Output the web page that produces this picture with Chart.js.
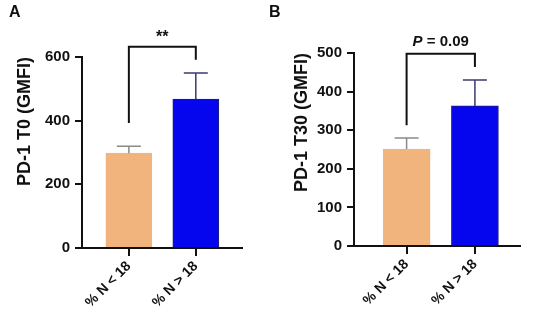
<!DOCTYPE html>
<html>
<head>
<meta charset="utf-8">
<script src="https://cdn.jsdelivr.net/npm/chart.js@4/dist/chart.umd.min.js"></script>
<style>
  body { margin: 0; background: #fff; }
  #wrap { position: relative; width: 536px; height: 330px; overflow: hidden; }
  .panel { position: absolute; top: 0; width: 268px; height: 330px; }
  .letter { position: absolute; top: 3px; font: bold 16px "Liberation Sans", Arial, sans-serif; color: #111; }
</style>
</head>
<body>
<div id="wrap">
  <div class="panel" style="left:0"><canvas id="chartA" width="268" height="330"></canvas></div>
  <div class="panel" style="left:268px"><canvas id="chartB" width="268" height="330"></canvas></div>
  <div class="letter" style="left:9px">A</div>
  <div class="letter" style="left:269px">B</div>
</div>
<script>
// data
const categories = ['% N < 18', '% N > 18'];
const t0Mean = [298, 468];
const t0Sem = [22, 82];
const t30Mean = [251, 363];
const t30Sem = [29, 67];
// significance brackets: [top, left leg end, right leg end] in axis units
const t0Bracket = [632, 393, 591];
const t30Bracket = [498, 313, 464];

const barColors = ['#F0B47C', '#0606EE'];
const barBorders = ['#F0B47C', '#1c1c7a'];
const errColors = ['#8a8a8a', '#3a3a70'];
const FONT = '"Liberation Sans", Arial, sans-serif';

// error bars + bracket, positioned with the chart scales
const annot = {
  id: 'annot',
  afterDatasetsDraw(chart, args, o) {
    const { ctx, scales: { x, y } } = chart;
    ctx.save();
    o.means.forEach((m, i) => {
      const px = x.getPixelForValue(i);
      const y0 = y.getPixelForValue(m);
      const y1 = y.getPixelForValue(m + o.sems[i]);
      ctx.strokeStyle = errColors[i];
      ctx.lineWidth = 1.5;
      ctx.beginPath();
      ctx.moveTo(px, y0);
      ctx.lineTo(px, y1);
      ctx.moveTo(px - 12, y1);
      ctx.lineTo(px + 12, y1);
      ctx.stroke();
    });
    const xl = x.getPixelForValue(0), xr = x.getPixelForValue(1);
    const [top, l, r] = o.bracket.map(v => y.getPixelForValue(v));
    ctx.strokeStyle = '#111';
    ctx.lineWidth = 2;
    ctx.beginPath();
    ctx.moveTo(xl, l);
    ctx.lineTo(xl, top);
    ctx.lineTo(xr, top);
    ctx.lineTo(xr, r);
    ctx.stroke();
    ctx.fillStyle = '#111';
    ctx.textAlign = 'center';
    ctx.textBaseline = 'alphabetic';
    const cx = (xl + xr) / 2;
    if (o.pValue) {
      ctx.font = 'italic bold 15px ' + FONT;
      const pW = ctx.measureText('P').width;
      ctx.font = 'bold 15px ' + FONT;
      const rest = ' = ' + o.pValue;
      const rW = ctx.measureText(rest).width;
      const sx = cx - (pW + rW) / 2;
      ctx.textAlign = 'left';
      ctx.font = 'italic bold 15px ' + FONT;
      ctx.fillText('P', sx, top - 8);
      ctx.font = 'bold 15px ' + FONT;
      ctx.fillText(rest, sx + pW, top - 8);
    } else {
      ctx.font = 'bold 16px ' + FONT;
      ctx.fillText(o.stars, cx, top - 5);
    }
    ctx.restore();
  }
};

function makeChart(id, means, sems, bracket, cfg) {
  const ctx = document.getElementById(id).getContext('2d');
  return new Chart(ctx, {
    type: 'bar',
    data: {
      datasets: [{
        data: means.map((v, i) => ({ x: i, y: v })),
        backgroundColor: barColors,
        borderColor: barBorders,
        borderWidth: 1,
        barThickness: cfg.barW,
      }],
    },
    options: {
      responsive: false,
      animation: false,
      events: [],
      layout: { padding: { left: cfg.padLeft, right: cfg.padRight, top: cfg.padTop, bottom: 0 } },
      plugins: {
        legend: { display: false },
        tooltip: { enabled: false },
        annot: { means: means, sems: sems, bracket: bracket, stars: cfg.stars, pValue: cfg.pValue },
      },
      scales: {
        x: {
          type: 'linear',
          offset: false,
          min: cfg.xMin,
          max: cfg.xMax,
          afterBuildTicks: (s) => { s.ticks = categories.map((_, i) => ({ value: i })); },
          afterFit: (s) => { s.height = 330 - cfg.bottomPx; },
          grid: { offset: false, drawOnChartArea: false, tickLength: 8, lineWidth: 2, color: '#111' },
          border: { color: '#111', width: 2 },
          ticks: {
            minRotation: 45, maxRotation: 45, padding: 2,
            color: '#111', font: { family: FONT, size: 14, weight: 'bold' },
            callback: (v) => categories[v] ?? '',
          },
        },
        y: {
          min: 0,
          max: cfg.yMax,
          afterFit: (s) => { s.width = cfg.yWidth; },
          grid: { drawOnChartArea: false, tickLength: 7, lineWidth: 2, color: '#111' },
          border: { color: '#111', width: 2 },
          ticks: { stepSize: cfg.step, padding: 5, color: '#111', font: { family: FONT, size: 15, weight: 'bold' } },
          title: {
            display: true, text: cfg.title, align: 'end', color: '#111',
            padding: { top: 4, bottom: 0 },
            font: { family: FONT, size: 18, weight: 'bold' },
          },
        },
      },
    },
    plugins: [annot],
  });
}

makeChart('chartA', t0Mean, t0Sem, t0Bracket, {
  title: 'PD-1 T0 (GMFI)', yMax: 600, step: 200, stars: '**',
  padLeft: 10, yWidth: 72, padRight: 26, padTop: 57, bottomPx: 248,
  xMin: -0.7, xMax: 1.69, barW: 46,
});
makeChart('chartB', t30Mean, t30Sem, t30Bracket, {
  title: 'PD-1 T30 (GMFI)', yMax: 500, step: 100, pValue: '0.09',
  padLeft: 19, yWidth: 67, padRight: 16, padTop: 53, bottomPx: 246,
  xMin: -0.77, xMax: 1.66, barW: 47,
});
</script>
</body>
</html>
